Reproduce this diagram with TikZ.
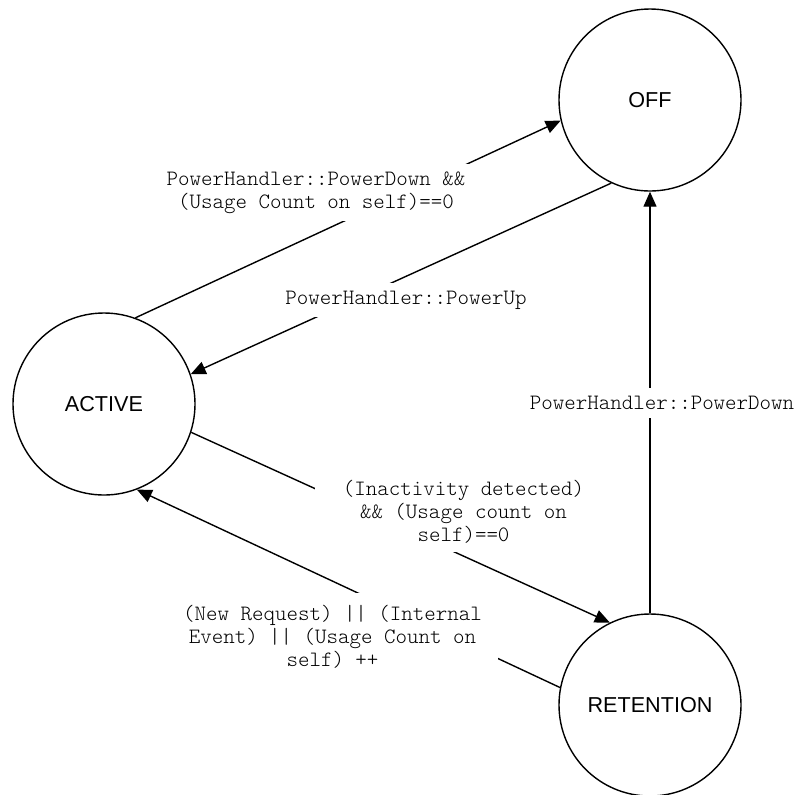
\documentclass[tikz,border=0pt]{standalone}
\usepackage{fontspec}
\newfontfamily\statefont{Liberation Sans}
\newfontfamily\condfont{Latin Modern Mono Light}
\usetikzlibrary{arrows.meta}

\begin{document}
\begin{tikzpicture}[x=0.5pt,y=-0.5pt,
  state/.style={circle,draw,line width=0.7pt,minimum size=91pt,inner sep=0pt,
    font=\statefont\fontsize{10.8}{13}\selectfont},
  tr/.style={line width=0.7pt,-{Triangle[length=7.5pt,width=6.5pt]}},
  cond/.style={fill=white,inner sep=4pt,align=center,
    font=\condfont\fontsize{10.95}{11.5}\selectfont}]
  \useasboundingbox (0,0) rectangle (797,794);
  % the three power states
  \node[state] (off) at (650,100) {OFF};
  \node[state] (active) at (104,404) {ACTIVE};
  \node[state] (ret) at (650,705) {RETENTION};
  % transitions between them
  \draw[tr] (active.70) -- (off.193);
  \draw[tr] (off.245) -- (active.19);
  \draw[tr] (ret.90) -- (off.270);
  \draw[tr] (active.-18) -- (ret.116);
  \draw[tr] (ret.169) -- (active.-69);
  % conditions, white boxes cut the lines
  \node[cond] (cdown) at (316,192.5)
    {PowerHandler::PowerDown \&\&\\(Usage Count on self)==0};
  \node[cond] (cup) at (406,300) {PowerHandler::PowerUp};
  \node[cond] (cret) at (662,403) {PowerHandler::PowerDown};
  \node[cond,minimum width=148.5pt] (cidle) at (463.5,512)
    {(Inactivity detected)\\\&\& (Usage count on\\self)==0};
  \node[cond,minimum width=165.5pt,inner ysep=6pt] (cwake) at (332.5,637)
    {(New Request) || (Internal\\Event) || (Usage Count on\\self) ++};
\end{tikzpicture}
\end{document}
